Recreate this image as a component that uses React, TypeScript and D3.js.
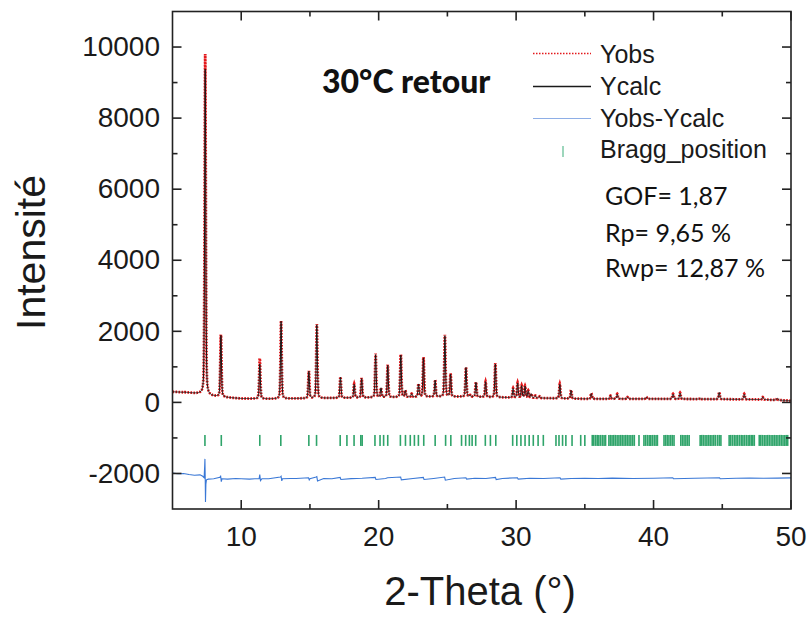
import React from "react";
import * as d3 from "d3";

// ---------- data ----------
// Reflections: 2θ position, observed height, calculated height (counts)
const peakPos = [7.38, 8.52, 11.35, 12.9, 14.92, 15.5, 17.22, 18.22, 18.76, 19.78, 20.17, 20.66, 21.61, 21.94, 22.4, 22.9, 23.26, 24.11, 24.82, 25.23, 26.35, 26.66, 27.08, 27.78, 28.49, 29.78, 30.11, 30.4, 30.65, 30.88, 31.1, 31.4, 31.72, 33.18, 34.0, 35.47, 36.87, 37.36, 38.1, 39.48, 41.42, 41.93, 43.39, 44.78, 46.6, 47.94, 49.0];
const peakObs = [9800, 1900, 1240, 2300, 880, 2200, 720, 520, 680, 1370, 400, 1060, 1350, 330, 240, 520, 1270, 630, 1900, 800, 990, 200, 570, 585, 1100, 400, 550, 470, 455, 330, 240, 190, 170, 520, 350, 260, 190, 240, 150, 150, 240, 270, 120, 290, 240, 150, 120];
const peakCalc = [9380, 1880, 1080, 2280, 870, 2180, 710, 510, 670, 1340, 400, 1040, 1330, 330, 240, 510, 1250, 620, 1870, 790, 980, 200, 560, 580, 1080, 390, 540, 460, 450, 320, 240, 190, 170, 510, 340, 250, 190, 230, 150, 150, 230, 260, 120, 280, 230, 150, 120];

// Background level
const bgX = [5, 6, 7, 7.8, 9, 10, 12, 14, 16, 18, 20, 22, 24, 26, 28, 30, 32, 35, 40, 45, 48, 50];
const bgY = [300, 280, 240, 180, 140, 110, 100, 110, 120, 130, 140, 150, 160, 160, 150, 130, 120, 100, 100, 90, 80, 50];

// Difference curve Yobs - Ycalc (shifted)
const diffX = [5.0, 5.4, 5.8, 6.2, 6.6, 7.0, 7.2, 7.3, 7.34, 7.36, 7.38, 7.4, 7.43, 7.47, 7.6, 8.0, 8.45, 8.5, 8.55, 8.6, 9.0, 9.6, 10.0, 10.6, 11.0, 11.3, 11.35, 11.4, 11.5, 12.0, 12.85, 12.9, 12.95, 13.0, 13.6, 14.0, 14.9, 14.95, 15.0, 15.45, 15.5, 15.55, 16.0, 16.6, 17.2, 17.25, 18.0, 18.8, 19.75, 19.8, 20.5, 20.65, 21.6, 21.65, 22.5, 23.25, 23.3, 24.0, 24.8, 24.85, 25.5, 26.35, 26.4, 27.0, 27.8, 28.5, 28.55, 29.0, 30.1, 30.15, 31.0, 32.0, 33.2, 33.25, 34.0, 35.0, 36.0, 37.0, 38.5, 40.0, 41.4, 41.45, 43.0, 44.8, 44.85, 46.0, 47.0, 48.0, 49.0, 50.0];
const diffY = [-1990, -2010, -2000, -2030, -2050, -2040, -2080, -2120, -1800, -1590, -2100, -2800, -2300, -2180, -2160, -2150, -2110, -2060, -2230, -2150, -2160, -2140, -2150, -2160, -2150, -2150, -2030, -2200, -2150, -2150, -2100, -2080, -2210, -2150, -2140, -2140, -2120, -2180, -2150, -2100, -2090, -2210, -2140, -2150, -2110, -2170, -2145, -2135, -2110, -2170, -2140, -2120, -2100, -2180, -2140, -2110, -2170, -2140, -2100, -2190, -2140, -2120, -2160, -2135, -2140, -2110, -2170, -2140, -2120, -2160, -2135, -2140, -2120, -2160, -2140, -2135, -2140, -2130, -2140, -2135, -2120, -2150, -2135, -2120, -2150, -2135, -2130, -2135, -2130, -2125];

// Bragg reflection positions
const braggPos = [7.36, 8.55, 11.35, 12.88, 14.92, 15.48, 17.2, 17.69, 18.21, 18.7, 18.8, 19.73, 20.1, 20.36, 20.66, 21.58, 21.95, 22.3, 22.6, 22.89, 23.28, 24.11, 24.87, 25.25, 26.03, 26.33, 26.6, 26.8, 27.06, 27.76, 28.13, 28.52,
  29.75, 30.05, 30.35, 30.65, 30.95, 31.25, 31.6, 31.98,
  32.9, 33.12, 33.38, 33.62, 34.07, 34.7, 35.0,
  35.54, 35.65, 35.78, 35.9, 36.02, 36.15, 36.28, 36.4, 36.51, 36.75, 36.86, 36.98, 37.1, 37.22, 37.35, 37.48, 37.6, 37.72, 37.85, 37.98, 38.1, 38.22, 38.35, 38.48, 38.6, 38.94,
  39.3, 39.42, 39.55, 39.68, 39.8, 39.92, 40.05, 40.18, 40.28, 40.76, 40.88, 41.0, 41.12, 41.25, 41.37, 41.49, 41.98, 42.1, 42.22, 42.35, 42.47, 42.59,
  43.39, 43.5, 43.62, 43.75, 43.88, 44.0, 44.12, 44.25, 44.38, 44.5, 44.65, 44.78, 44.9, 45.5, 45.62, 45.75, 45.88, 46.0, 46.12, 46.25, 46.38, 46.5, 46.62, 46.75, 46.88, 47.0, 47.12, 47.22, 47.33,
  47.69, 47.8, 47.92, 48.05, 48.18, 48.3, 48.42, 48.55, 48.68, 48.8, 48.92, 49.05, 49.18, 49.3, 49.42, 49.55, 49.66, 49.76];
const braggLevel = -1070;

const xTicksMajor = [10, 20, 30, 40, 50];
const xTicksMinor = [15, 25, 35, 45];
const yTicksMajor = [-2000, 0, 2000, 4000, 6000, 8000, 10000];
const yTicksMinor = [-1000, 1000, 3000, 5000, 7000, 9000];

const legendLabels = ["Yobs", "Ycalc", "Yobs-Ycalc", "Bragg_position"];
const titleText = "30°C retour";
const statsLines = ["GOF= 1,87", "Rp= 9,65 %", "Rwp= 12,87 %"];

// ---------- helpers ----------
const FWHM = 0.1;
const ETA = 0.35;
function profile(x: number, pos: number) {
  const d = x - pos;
  const s = FWHM / 2.3548;
  const g = Math.exp(-(d * d) / (2 * s * s));
  const l = 1 / (1 + (2 * d / FWHM) ** 2);
  return ETA * l + (1 - ETA) * g;
}
const bgScale = d3.scaleLinear(bgX, bgY);

function buildPattern(heights: number[]) {
  const pts: [number, number][] = [];
  for (let i = 0; i <= 4500; i++) {
    const x = 5 + i * 0.01;
    let y = bgScale(x);
    peakPos.forEach((p, k) => {
      if (Math.abs(x - p) < 1.5) y += (heights[k] - bgScale(p)) * profile(x, p);
    });
    pts.push([x, y]);
  }
  return pts;
}

const W = 811, H = 619;
const FONT_AX = "'Liberation Sans', Arial, sans-serif";
const FONT_TX = "Lato, 'Open Sans', sans-serif";

export default function App() {
  const x = d3.scaleLinear([5, 50], [172.5, 791]);
  const y = d3.scaleLinear([-3000, 11000], [509, 11.5]);
  const line = d3.line<[number, number]>().x((d) => x(d[0])).y((d) => y(d[1]));

  const obs = buildPattern(peakObs);
  const calc = buildPattern(peakCalc);
  const diff = diffX.map((v, i) => [v, diffY[i]] as [number, number]);

  const left = x.range()[0], right = x.range()[1];
  const top = y.range()[1], bottom = y.range()[0];

  return (
    <svg width={W} height={H} style={{ position: "fixed", left: 0, top: 0, background: "#fff" }}>
      <rect width={W} height={H} fill="#fff" />
      <defs>
        <clipPath id="plot">
          <rect x={left} y={top} width={right - left} height={bottom - top} />
        </clipPath>
      </defs>
      <g clipPath="url(#plot)">
        {braggPos.map((p, i) => (
          <line key={i} x1={x(p)} x2={x(p)} y1={y(braggLevel) - 5.5} y2={y(braggLevel) + 5.5} stroke="#2fa46a" strokeWidth={1.6} />
        ))}
        <path d={line(diff) || ""} fill="none" stroke="#3a78d6" strokeWidth={1.1} />
        <path d={line(obs) || ""} fill="none" stroke="#e3191c" strokeWidth={2.8} strokeDasharray="1.6,1.4" />
        <path d={line(calc) || ""} fill="none" stroke="#1a1a1a" strokeWidth={1} />
      </g>

      {/* frame */}
      <rect x={left} y={top} width={right - left} height={bottom - top} fill="none" stroke="#222" strokeWidth={1.6} />

      {/* x ticks */}
      {xTicksMajor.map((t) => (
        <g key={"xm" + t}>
          <line x1={x(t)} x2={x(t)} y1={bottom} y2={bottom - 9} stroke="#222" strokeWidth={1.6} />
          <line x1={x(t)} x2={x(t)} y1={top} y2={top + 9} stroke="#222" strokeWidth={1.6} />
          <text x={x(t)} y={546} textAnchor="middle" fontFamily={FONT_AX} fontSize={28} fill="#1a1a1a">{t}</text>
        </g>
      ))}
      {xTicksMinor.map((t) => (
        <g key={"xn" + t}>
          <line x1={x(t)} x2={x(t)} y1={bottom} y2={bottom - 5} stroke="#222" strokeWidth={1.6} />
          <line x1={x(t)} x2={x(t)} y1={top} y2={top + 5} stroke="#222" strokeWidth={1.6} />
        </g>
      ))}
      {/* y ticks */}
      {yTicksMajor.map((t) => (
        <g key={"ym" + t}>
          <line x1={left} x2={left + 9} y1={y(t)} y2={y(t)} stroke="#222" strokeWidth={1.6} />
          <line x1={right} x2={right - 9} y1={y(t)} y2={y(t)} stroke="#222" strokeWidth={1.6} />
          <text x={160} y={y(t)} dy="0.33em" textAnchor="end" fontFamily={FONT_AX} fontSize={28} fill="#1a1a1a">{t}</text>
        </g>
      ))}
      {yTicksMinor.map((t) => (
        <g key={"yn" + t}>
          <line x1={left} x2={left + 5} y1={y(t)} y2={y(t)} stroke="#222" strokeWidth={1.6} />
          <line x1={right} x2={right - 5} y1={y(t)} y2={y(t)} stroke="#222" strokeWidth={1.6} />
        </g>
      ))}

      {/* axis titles */}
      <text x={480} y={605} textAnchor="middle" fontFamily={FONT_AX} fontSize={40} fill="#1a1a1a">2-Theta (°)</text>
      <text transform="translate(45,252.5) rotate(-90)" textAnchor="middle" fontFamily={FONT_AX} fontSize={41} fill="#1a1a1a">Intensité</text>

      {/* title */}
      <text x={322} y={93} fontFamily={FONT_TX} fontWeight={900} fontSize={32} fill="#111">{titleText}</text>

      {/* legend */}
      <line x1={533} x2={591} y1={53.5} y2={53.5} stroke="#e3191c" strokeWidth={1.6} strokeDasharray="1.5,1.5" />
      <line x1={533} x2={591} y1={86.5} y2={86.5} stroke="#1a1a1a" strokeWidth={1.3} />
      <line x1={533} x2={591} y1={118.5} y2={118.5} stroke="#8eaee6" strokeWidth={1.2} />
      <line x1={563} x2={563} y1={146} y2={157} stroke="#7cc9a6" strokeWidth={1.5} />
      {legendLabels.map((l, i) => (
        <text key={l} x={600} y={[63, 95, 127, 158][i]} fontFamily={FONT_AX} fontSize={25} fill="#1a1a1a">{l}</text>
      ))}

      {/* stats */}
      {statsLines.map((s, i) => (
        <text key={s} x={605} y={[205, 242, 277][i]} fontFamily={FONT_TX} fontSize={25} fill="#111">{s}</text>
      ))}
    </svg>
  );
}
